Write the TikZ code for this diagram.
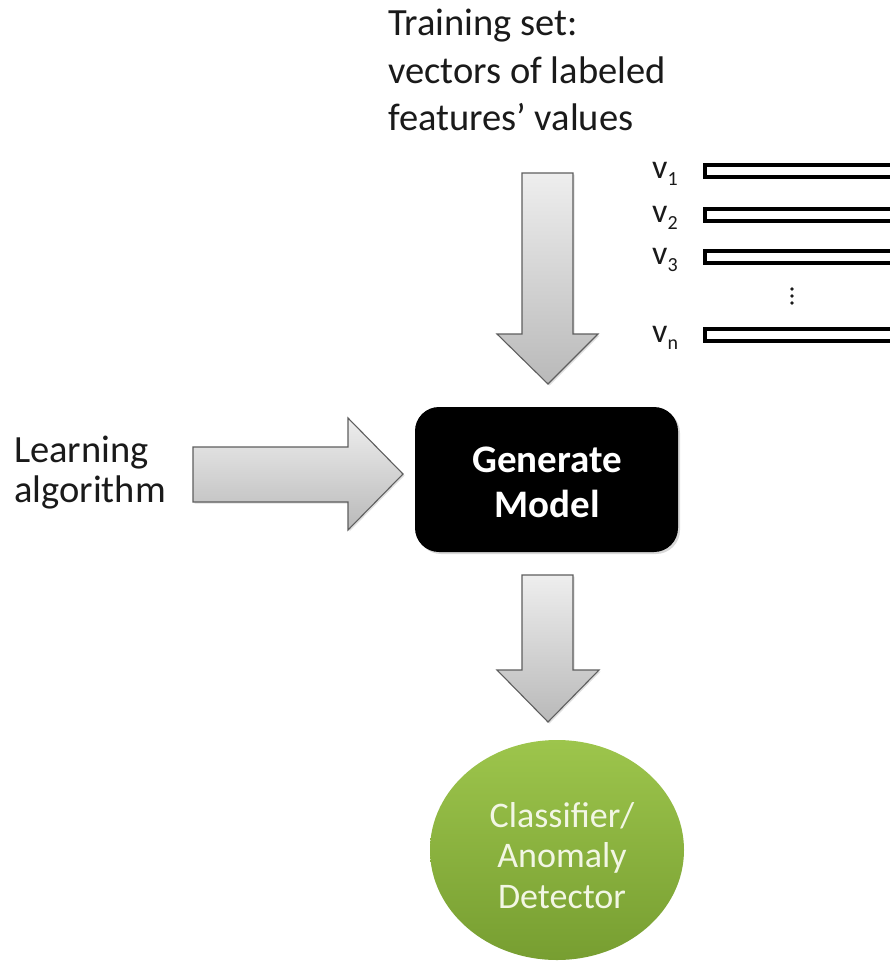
\documentclass[tikz,border=0pt]{standalone}
\usepackage{fontspec}
\setmainfont{Carlito}
\usetikzlibrary{shapes.geometric,shadows}

\definecolor{arrowedge}{HTML}{5E5E5E}
\definecolor{arrowtop}{HTML}{EEEEEE}
\definecolor{arrowbot}{HTML}{B9B9B9}
\definecolor{greentop}{HTML}{9DC54C}
\definecolor{greenbot}{HTML}{779E31}
\definecolor{paletext}{HTML}{F2F6E4}
\definecolor{inktext}{HTML}{1A1A1A}

\tikzset{
  blockarrow/.style={draw=arrowedge, line width=1.1pt, line join=miter,
    top color=arrowtop, bottom color=arrowbot,
    drop shadow={opacity=0.25, shadow xshift=1.5pt, shadow yshift=-1.5pt}},
  plaintext/.style={inner sep=0pt, text=inktext, font=\fontsize{38.5}{47}\selectfont},
  vlabel/.style={inner sep=0pt, anchor=base west, text=inktext, font=\fontsize{34}{40}\selectfont},
  vecbar/.style={draw=black, line width=4pt, fill=white},
  genbox/.style={fill=black, rounded corners=24pt, inner sep=0pt,
    minimum width=263pt, minimum height=145pt,
    drop shadow={opacity=0.3, shadow xshift=2pt, shadow yshift=-2pt}},
  gentext/.style={inner sep=0pt, anchor=base, text=white, font=\fontsize{39}{45}\bfseries\selectfont},
  classnode/.style={ellipse, inner sep=0pt, minimum width=254pt, minimum height=220pt,
    top color=greentop, bottom color=greenbot, draw=none},
  classtext/.style={inner sep=0pt, anchor=base, text=paletext, font=\fontsize{36}{42}\selectfont}
}

\begin{document}
\begin{tikzpicture}[x=1pt, y=-1pt]
  \useasboundingbox (0,0) rectangle (890,964);
  \clip (0,0) rectangle (890,964);
  \fill[white] (0,0) rectangle (890,964);

  % training-set caption
  \node[plaintext, anchor=base west] (train1) at (388,35) {Training set:};
  \node[plaintext, anchor=base west] (train2) at (388,83) {vectors of labeled};
  \node[plaintext, anchor=base west] (train3) at (388,130) {features’ values};

  % feature vectors
  \node[vlabel] (v1) at (652,178) {v\raisebox{-7pt}{\fontsize{20}{20}\selectfont 1}};
  \node[vlabel] (v2) at (652,222) {v\raisebox{-7pt}{\fontsize{20}{20}\selectfont 2}};
  \node[vlabel] (v3) at (652,264) {v\raisebox{-7pt}{\fontsize{20}{20}\selectfont 3}};
  \node[vlabel] (vn) at (652,342) {v\raisebox{-7pt}{\fontsize{20}{20}\selectfont n}};
  \draw[vecbar] (705,165) rectangle (900,177);
  \draw[vecbar] (705,209) rectangle (900,221);
  \draw[vecbar] (705,251) rectangle (900,263);
  \draw[vecbar] (705,329) rectangle (900,341);
  \foreach \yy in {289,296,303} \fill[inktext] (792,\yy) circle (1.8pt);

  % learning algorithm input
  \node[plaintext, anchor=base west] (learn1) at (14,462) {Learning};
  \node[plaintext, anchor=base west] (learn2) at (14,502) {algorithm};

  % block arrows
  \path[blockarrow] (193,447) -- (348,447) -- (348,418) -- (403,474)
    -- (348,530) -- (348,502) -- (193,502) -- cycle;
  \path[blockarrow] (522,173) -- (573,173) -- (573,334) -- (598,334)
    -- (548,384) -- (497,334) -- (522,334) -- cycle;
  \path[blockarrow] (522,575) -- (573,575) -- (573,670) -- (599,670)
    -- (548,722) -- (497,670) -- (522,670) -- cycle;

  % model generation
  \node[genbox] (gen) at (546.5,479.5) {};
  \node[gentext] (genA) at (547,472) {Generate};
  \node[gentext] (genB) at (547,517) {Model};

  % resulting classifier
  \node[classnode] (cls) at (557,850) {};
  \node[classtext] (clsA) at (562,827) {Classifier/};
  \node[classtext] (clsB) at (562,867) {Anomaly};
  \node[classtext] (clsC) at (562,908) {Detector};
\end{tikzpicture}
\end{document}
